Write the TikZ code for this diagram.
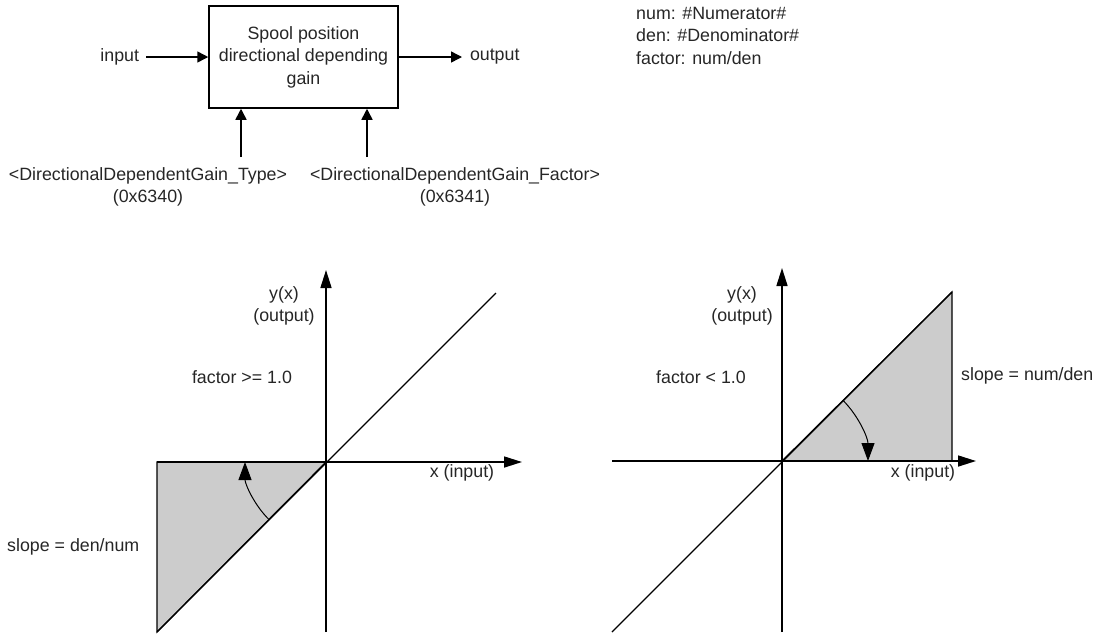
\documentclass[tikz,border=0pt]{standalone}
\usepackage{fontspec}
\setmainfont{Liberation Sans}
\usetikzlibrary{arrows.meta}
\begin{document}
\begin{tikzpicture}[x=1pt,y=-1pt,
  txt/.style={font=\fontsize{17.8}{22.5}\selectfont, inner sep=2pt, text=black!85},
  blockbox/.style={draw, line width=1.5pt, minimum width=189pt, minimum height=102pt, align=center, inner sep=0pt},
  flow/.style={line width=1.5pt, -{Triangle[length=11pt,width=11pt]}},
  axis/.style={line width=1.6pt, -{Triangle[length=18pt,width=11pt]}},
  diag/.style={line width=1.2pt},
  turn/.style={line width=1pt, -{Triangle[length=18pt,width=13pt]}},
  shade/.style={fill=gray!40, draw=black, line width=1.2pt}
]
\useasboundingbox (0,0) rectangle (1110,633);

% ---- block diagram ----
\node[blockbox, txt, inner sep=0pt] (box) at (303.5,57) {Spool position\\directional depending\\gain};
\node[txt, anchor=east, outer sep=5pt] (in) at (146,57) {input};
\node[txt, anchor=west, outer sep=6pt] (out) at (462,57) {output};
\draw[flow] (in.east) -- (box.west);
\draw[flow] (box.east) -- (out.west);

\node[txt, align=center] (typ) at (148,187) {<DirectionalDependentGain\_Type>\\(0x6340)};
\node[txt, align=center] (fac) at (455,187) {<DirectionalDependentGain\_Factor>\\(0x6341)};
\coordinate (c1) at (241,157);
\coordinate (c2) at (367,157);
\draw[flow] (c1) -- (c1 |- box.south);
\draw[flow] (c2) -- (c2 |- box.south);

\node[txt, anchor=north west, align=left] (par) at (634,5) {num: \#Numerator\#\\den: \#Denominator\#\\factor: num/den};

% ---- left graph ----
\coordinate (o1) at (326,462);
\filldraw[shade] (157,462) -- (o1) -- (157,632) -- cycle;
\draw[diag] (157,632) -- (496,293);
\coordinate (y1b) at (326,632);
\coordinate (y1t) at (326,270);
\coordinate (x1l) at (157,462);
\coordinate (x1r) at (522,462);
\draw[axis] (y1b) -- (y1t);
\draw[axis] (x1l) -- (x1r);
\draw[turn] (o1) ++(135:81) arc[start angle=135, end angle=180, radius=81];
\node[txt, align=center] (ylab1) at (284,306) {y(x)\\(output)};
\node[txt] (fl) at (242,377) {factor >= 1.0};
\node[txt] (xlab1) at (462,473) {x (input)};
\node[txt, anchor=west] (sl1) at (5,547) {slope = den/num};

% ---- right graph ----
\coordinate (o2) at (782,461);
\filldraw[shade] (o2) -- (952,461) -- (952,292) -- cycle;
\draw[diag] (612,632) -- (952,292);
\coordinate (y2b) at (782,632);
\coordinate (y2t) at (782,268);
\coordinate (x2l) at (612,461);
\coordinate (x2r) at (976,461);
\draw[axis] (y2b) -- (y2t);
\draw[axis] (x2l) -- (x2r);
\draw[turn] (o2) ++(-45:86) arc[start angle=-45, end angle=0, radius=86];
\node[txt, align=center] (ylab2) at (742,306) {y(x)\\(output)};
\node[txt] (fr) at (701,377) {factor < 1.0};
\node[txt] (xlab2) at (923,473) {x (input)};
\node[txt, anchor=west] (sl2) at (959,376) {slope = num/den};
\end{tikzpicture}
\end{document}
